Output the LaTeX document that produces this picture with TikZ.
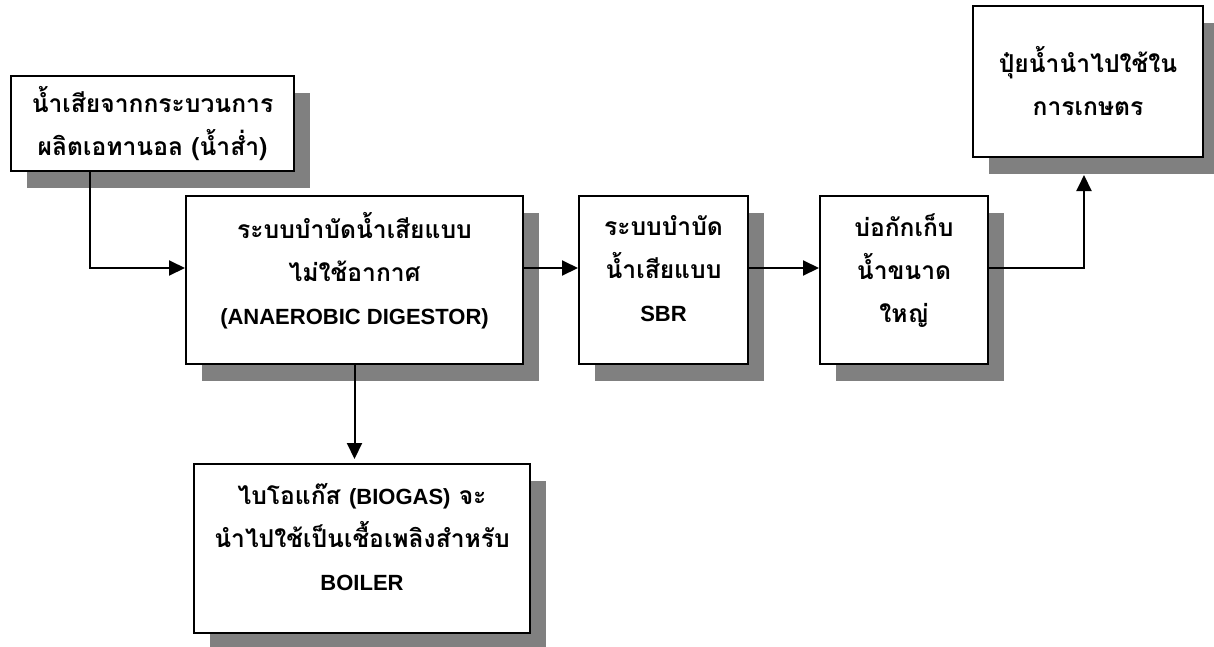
\documentclass[tikz,border=0pt]{standalone}
\usepackage{fontspec}
\usepackage{xcolor}
\usepackage{tikz}
\usetikzlibrary{arrows.meta,shadows}
\setmainfont{Liberation Sans}
\newfontfamily\thaifont[Script=Thai,Scale=1.12]{Loma}
\newcommand{\en}[1]{{\rmfamily\bfseries #1}}
\definecolor{ink}{HTML}{000000}
\definecolor{shade}{HTML}{808080}
\tikzset{
  procbox/.style={draw=ink, fill=white, line width=2pt, anchor=north west,
    inner sep=0pt, align=center,
    font=\thaifont\bfseries\fontsize{22}{43}\selectfont,
    drop shadow={shadow xshift=16pt, shadow yshift=-17pt, fill=shade, opacity=1}},
  lifted/.style={text depth=24pt},
  flowline/.style={draw=ink, line width=2pt, -{Triangle[length=16pt,width=15pt]}},
}

\begin{document}
\begin{tikzpicture}[x=1pt,y=-1pt]
  \useasboundingbox (0,0) rectangle (1214,646);

  \node[procbox, minimum width=283pt, minimum height=95pt] (waste) at (10,75)
    {น้ำเสียจากกระบวนการ\\ผลิตเอทานอล (น้ำส่ำ)};
  \node[procbox, lifted, minimum width=337pt, minimum height=168pt] (digester) at (185,195)
    {ระบบบำบัดน้ำเสียแบบ\\ไม่ใช้อากาศ\\\en{(ANAEROBIC DIGESTOR)}};
  \node[procbox, lifted, minimum width=169pt, minimum height=168pt] (sbr) at (578,195)
    {ระบบบำบัด\\น้ำเสียแบบ\\\en{SBR}};
  \node[procbox, lifted, minimum width=168pt, minimum height=168pt] (pond) at (819,195)
    {บ่อกักเก็บ\\น้ำขนาด\\ใหญ่};
  \node[procbox, minimum width=230pt, minimum height=151pt] (fert) at (972,5)
    {ปุ๋ยน้ำนำไปใช้ใน\\การเกษตร};
  \node[procbox, lifted, minimum width=336pt, minimum height=169pt] (biogas) at (193,463)
    {ไบโอแก๊ส \en{(BIOGAS)} จะ\\นำไปใช้เป็นเชื้อเพลิงสำหรับ\\\en{BOILER}};

  \draw[flowline] ([xshift=80pt]waste.south west) |- ([yshift=12pt]digester.west);
  \draw[flowline] ([yshift=12pt]digester.east) -- ([yshift=12pt]sbr.west);
  \draw[flowline] ([yshift=12pt]sbr.east) -- ([yshift=12pt]pond.west);
  \draw[flowline] ([yshift=12pt]pond.east) -| ([xshift=-4pt,yshift=-17pt]fert.south);
  \draw[flowline] (digester.south) -- ([yshift=4pt]digester.south |- biogas.north);
\end{tikzpicture}
\end{document}
